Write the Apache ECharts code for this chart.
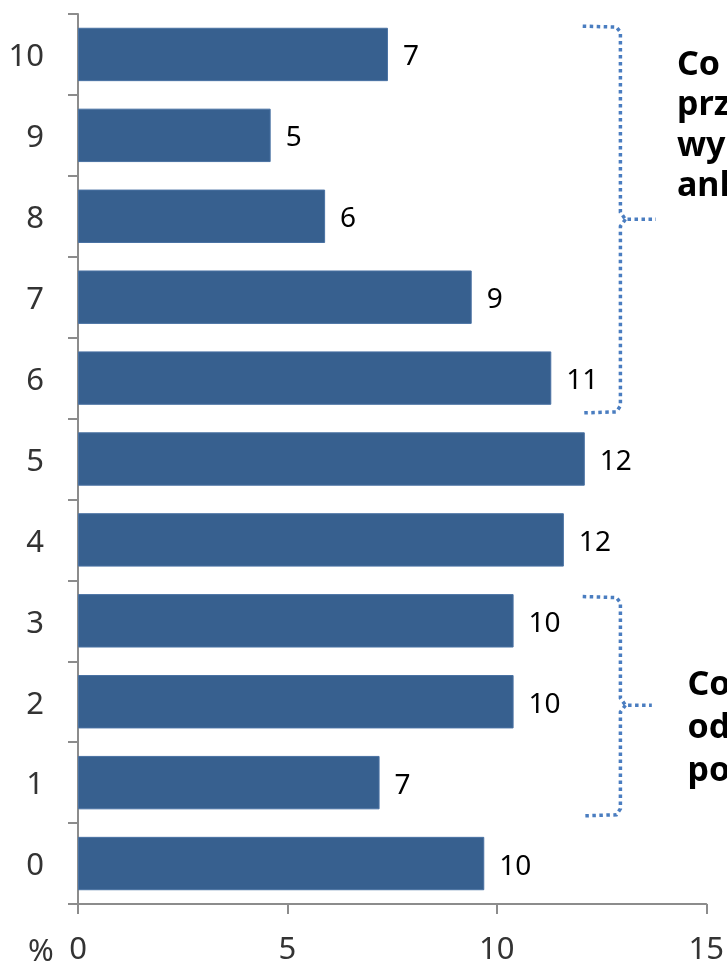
<!DOCTYPE html>
<html><head><meta charset="utf-8">
<script src="https://cdn.jsdelivr.net/npm/echarts@6/dist/echarts.min.js"></script>
<style>html,body{margin:0;padding:0;background:#fff}#c{width:727px;height:966px}</style>
</head><body><div id="c"></div>
<script>
const categories = ['0','1','2','3','4','5','6','7','8','9','10'];
const values = [9.7, 7.2, 10.4, 10.4, 11.6, 12.1, 11.3, 9.4, 5.9, 4.6, 7.4];
const valueLabels = ['10','7','10','10','12','12','11','9','6','5','7'];
const xTicks = [0, 5, 10, 15];
const note1 = ['Co najmniej', 'przeciętny', 'wynik', 'ankiety'];
const note2 = ['Co najwyżej', 'odpowiedź', 'pozytywna'];

const FONT = '"Noto Sans", "Open Sans", sans-serif';
const chart = echarts.init(document.getElementById('c'), null, {renderer: 'canvas'});
const axisColor = '#8c8c8c';
chart.setOption({
  animation: false,
  grid: {left: 78, right: 17, top: 14, bottom: 60, containLabel: false},
  xAxis: {
    type: 'value', min: xTicks[0], max: xTicks[xTicks.length-1], interval: 5,
    axisLine: {show: true, lineStyle: {color: axisColor, width: 2}},
    axisTick: {show: true, length: 10, lineStyle: {color: axisColor, width: 2}},
    splitLine: {show: false},
    axisLabel: {margin: 31, fontSize: 31, color: '#333', fontFamily: FONT}
  },
  yAxis: {
    type: 'category', data: categories,
    axisLine: {show: true, lineStyle: {color: axisColor, width: 2}},
    axisTick: {show: true, length: 10, lineStyle: {color: axisColor, width: 2}},
    axisLabel: {margin: 34, color: '#333', formatter: '{a|{value}}',
      rich: {a: {fontSize: 31, color: '#333', fontFamily: FONT, padding: [6, 0, 0, 0]}}}
  },
  series: [{
    type: 'bar', data: values, barCategoryGap: '34%',
    itemStyle: {color: '#37608f', borderColor: '#4a72a3', borderWidth: 1},
    label: {show: true, position: 'right', distance: 15, color: '#000',
      formatter: p => '{a|' + valueLabels[p.dataIndex] + '}',
      rich: {a: {fontSize: 28, color: '#000', fontFamily: FONT, padding: [6, 0, 0, 0]}}}
  }]
});

function buildGraphics(){
  const px = v => chart.convertToPixel({xAxisIndex: 0}, v);
  const py = c => chart.convertToPixel({yAxisIndex: 0}, c);
  const band = Math.abs(py('9') - py('10'));
  const ls = {stroke: '#4a7dc0', lineWidth: 3.5, lineDash: [3.5, 3.5], fill: null};
  function brace(topCat, topOff, botCat, botOff, midCat, midOff, tipVal){
    const yT = py(topCat) + topOff*band, yB = py(botCat) + botOff*band, yM = py(midCat) + midOff*band;
    const x0 = px(12.05), xv = px(12.95), xt = px(tipVal);
    return [
      {type: 'polyline', shape: {points: [[x0, yT], [xv-4, yT+1], [xv, yT+6], [xv, yM-8], [xv+5, yM-1], [xt, yM-1]]}, style: ls, silent: true},
      {type: 'polyline', shape: {points: [[xv+5, yM-1], [xv, yM+6], [xv, yB-7], [xv-4, yB-1], [x0, yB]]}, style: ls, silent: true}
    ];
  }
  const g = [];
  g.push(...brace('10', -0.35, '6', 0.43, '8', 0.05, 13.8));
  g.push(...brace('3', -0.30, '1', 0.41, '2', 0.055, 13.7));
  g.push({type: 'text', left: px(14.3), top: 45, silent: true,
    style: {text: note1.join('\n'), font: 'bold 34px ' + FONT, fill: '#000', lineHeight: 40.5}});
  g.push({type: 'text', left: px(14.55), top: py('2') - 38, silent: true,
    style: {text: note2.join('\n'), font: 'bold 34px ' + FONT, fill: '#000', lineHeight: 43}});
  g.push({type: 'text', left: px(0) - 50, top: 937, silent: true,
    style: {text: '%', font: '31px ' + FONT, fill: '#333'}});
  chart.setOption({graphic: g});
}
buildGraphics();
</script></body></html>
